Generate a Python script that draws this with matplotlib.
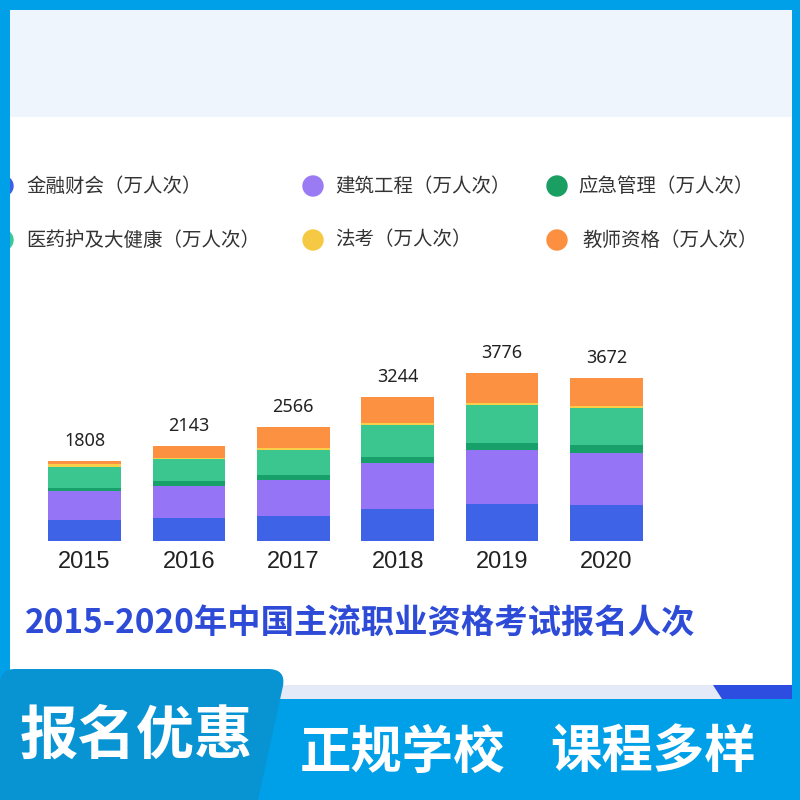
import matplotlib.pyplot as plt
from matplotlib.patches import Rectangle, Circle, Polygon, PathPatch
from matplotlib.path import Path

plt.rcParams['font.family'] = ['Noto Sans CJK SC', 'DejaVu Sans']

# 数据（万人次）
years = ['2015', '2016', '2017', '2018', '2019', '2020']
totals = [1808, 2143, 2566, 3244, 3776, 3672]
finance = [471, 517, 573, 729, 838, 811]
construction = [645, 729, 809, 1029, 1206, 1164]
emergency = [84, 95, 113, 139, 171, 194]
medical = [471, 493, 559, 720, 837, 814]
law = [52, 44, 45, 39, 44, 53]
teacher = [85, 265, 467, 588, 680, 636]

series = [finance, construction, emergency, medical, law, teacher]
series_names = ['金融财会（万人次）', '建筑工程（万人次）', '应急管理（万人次）',
                '医药护及大健康（万人次）', '法考（万人次）', '教师资格（万人次）']
bar_colors = ['#3F63E6', '#9575F5', '#18A06A', '#3CC68F', '#F9CF4A', '#FC9142']
dot_colors = ['#3F5FE6', '#9B7BF3', '#1A9E62', '#3FC79A', '#F6C944', '#FC9040']

cyan = '#00A0E9'
fig = plt.figure(figsize=(8, 8), dpi=100, facecolor=cyan)

# 背景和边框
bg = fig.add_axes([0, 0, 1, 1])
bg.set_xlim(0, 800)
bg.set_ylim(800, 0)
bg.axis('off')
bg.add_patch(Rectangle((10, 10), 782, 107, color='#EFF5FD', lw=0))
panel = Rectangle((10, 117), 782, 568, color='white', lw=0)
bg.add_patch(panel)
bg.add_patch(Rectangle((10, 685), 782, 14, color='#E4EAF8', lw=0))
bg.add_patch(Polygon([(713, 685), (792, 685), (792, 699), (722, 699)],
                     closed=True, color='#2C4DE0', lw=0))

# 左下角标签
verts = [(0, 800), (0, 684), (0, 669), (15, 669), (268, 669), (286, 669),
         (283, 686), (258, 800), (0, 800)]
codes = [Path.MOVETO, Path.LINETO, Path.CURVE3, Path.CURVE3, Path.LINETO,
         Path.CURVE3, Path.CURVE3, Path.LINETO, Path.CLOSEPOLY]
bg.add_patch(PathPatch(Path(verts, codes), facecolor='#0893D3', lw=0))

# 图例
legend_pos = [(3, 186, 26), (313, 186, 335), (557, 186, 578),
              (3, 240, 26), (313, 240, 335), (557, 240, 582)]
for (cx, cy, tx), name, c in zip(legend_pos, series_names, dot_colors):
    dot = Circle((cx, cy), 10.7, color=c, lw=0)
    bg.add_patch(dot)
    dot.set_clip_path(panel)
    bg.text(tx, cy, name, fontsize=14, color='#333333', va='center', ha='left')

# 标题
bg.text(25, 624, '2015-2020年中国主流职业资格考试报名人次', fontsize=24,
        fontweight='bold', color='#2D4BD7', va='center', ha='left')

# 底部文字
bg.text(136, 737, '报名优惠', fontsize=42, fontweight='heavy', color='white',
        va='center', ha='center')
bg.text(403, 752, '正规学校', fontsize=37, fontweight='heavy', color='white',
        va='center', ha='center')
bg.text(653, 752, '课程多样', fontsize=37, fontweight='heavy', color='white',
        va='center', ha='center')

# 堆叠柱状图
ax = fig.add_axes([32.3 / 800, 259 / 800, 626.4 / 800, 177.8 / 800])
ax.set_xlim(-0.5, 5.5)
ax.set_ylim(0, 4000)
ax.patch.set_alpha(0)
for s in ax.spines.values():
    s.set_visible(False)
ax.set_yticks([])

x = list(range(len(years)))
bottom = [0] * len(years)
for vals, c in zip(series, bar_colors):
    ax.bar(x, vals, width=0.695, bottom=bottom, color=c, lw=0)
    bottom = [b + v for b, v in zip(bottom, vals)]

for xi, t in zip(x, totals):
    ax.annotate(str(t), (xi, t), xytext=(0, 8), textcoords='offset points',
                ha='center', va='bottom', fontsize=13, color='#222222',
                family=['Noto Sans', 'DejaVu Sans'])

ax.set_xticks(x)
ax.set_xticklabels(years, fontsize=17, color='#222222',
                   family=['Liberation Sans', 'DejaVu Sans'])
ax.tick_params(axis='x', length=0, pad=7)

fig.savefig('out.png', dpi=100, facecolor=cyan)
